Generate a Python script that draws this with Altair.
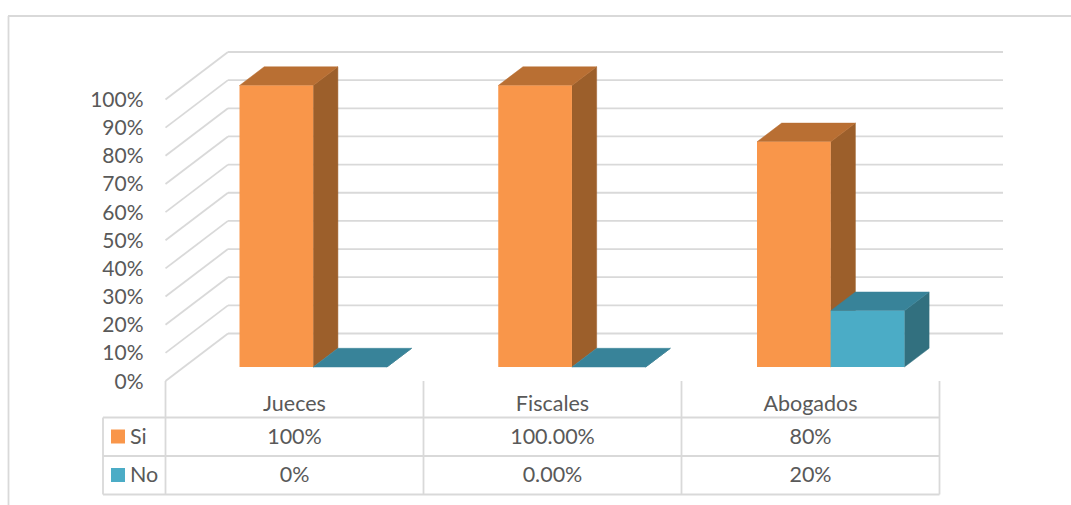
import altair as alt
import pandas as pd

# Chart values
categories = ["Jueces", "Fiscales", "Abogados"]
series_names = ["Si", "No"]
si_values = [100, 100, 80]
no_values = [0, 0, 20]
si_labels = ["100%", "100.00%", "80%"]
no_labels = ["0%", "0.00%", "20%"]
tick_values = [0, 10, 20, 30, 40, 50, 60, 70, 80, 90, 100]

# Colours
GRID = "#D9D9D9"
INK = "#595959"
FACES = {
    "Si": {"front": "#F9964A", "top": "#B96F33", "side": "#9C5F2B"},
    "No": {"front": "#4BACC6", "top": "#388399", "side": "#32707F"},
}

# Canvas and scale geometry (x in category widths, y in percent)
W, H = 1071, 505
CAT_PX = 258.0
ORIGIN_X = 165.5
PCT_PX = 2.815
BASE_Y = 367.0
BAR_START = (239.5 - ORIGIN_X) / CAT_PX
BAR_STEP = 258.75 / CAT_PX
BAR_W = 73.7 / CAT_PX
DEPTH_U = 24.7 / CAT_PX
DEPTH_P = 18.7 / PCT_PX
WALL_U = 62.5 / CAT_PX
WALL_BACK_P = (BASE_Y - 333.5) / PCT_PX
WALL_FRONT_P = (BASE_Y - 381.0) / PCT_PX
LINE_W = 1.8

x_scale = alt.Scale(domain=[-ORIGIN_X / CAT_PX, (W - ORIGIN_X) / CAT_PX], nice=False, zero=False)
y_scale = alt.Scale(domain=[(BASE_Y - H) / PCT_PX, BASE_Y / PCT_PX], nice=False, zero=False)


def X(field):
    return alt.X(field, type="quantitative", scale=x_scale, axis=None)


def Y(field):
    return alt.Y(field, type="quantitative", scale=y_scale, axis=None, stack=None)


# Bar faces, one record set per category and series
front_rows, side_rows, top_rows = [], [], []
for name, values in zip(series_names, [si_values, no_values]):
    shift = series_names.index(name) * BAR_W
    for i, (cat, v) in enumerate(zip(categories, values)):
        x0 = i * BAR_STEP + BAR_START + shift
        x1 = x0 + BAR_W
        front_rows.append({"series": name, "cat": cat, "x": x0, "x2": x1, "y": v, "y2": 0})
        side_rows += [
            {"series": name, "cat": cat, "x": x1, "y": v, "y2": 0},
            {"series": name, "cat": cat, "x": x1 + DEPTH_U, "y": v + DEPTH_P, "y2": DEPTH_P},
        ]
        top_rows += [
            {"series": name, "cat": cat, "x": x0, "x2": x1, "y": v},
            {"series": name, "cat": cat, "x": x0 + DEPTH_U, "x2": x1 + DEPTH_U, "y": v + DEPTH_P},
        ]
fronts = pd.DataFrame(front_rows)
sides = pd.DataFrame(side_rows)
tops = pd.DataFrame(top_rows)

# Gridlines on the back wall and the left wall
grid = pd.DataFrame({"tick": tick_values})
grid["label"] = [f"{t}%" for t in tick_values]
grid["back"] = grid["tick"] + WALL_BACK_P
grid["front"] = grid["tick"] + WALL_FRONT_P
grid["wx"] = 0.0
grid["wx2"] = WALL_U
grid["bx2"] = (1003 - ORIGIN_X) / CAT_PX

layers = []

# Outer frame
frame = pd.DataFrame({"k": [0]})
layers.append(alt.Chart(frame).mark_rule(color=GRID, strokeWidth=LINE_W).encode(
    x=alt.value(8), x2=alt.value(W), y=alt.value(16)))
layers.append(alt.Chart(frame).mark_rule(color=GRID, strokeWidth=LINE_W).encode(
    x=alt.value(8.5), y=alt.value(16), y2=alt.value(H)))

layers.append(alt.Chart(grid).mark_rule(color=GRID, strokeWidth=LINE_W).encode(
    x=X("wx2"), x2="bx2:Q", y=Y("back")))
layers.append(alt.Chart(grid).mark_rule(color=GRID, strokeWidth=LINE_W).encode(
    x=X("wx"), x2="wx2:Q", y=Y("front"), y2="back:Q"))

# Value axis labels
layers.append(alt.Chart(grid).mark_text(
    align="right", baseline="middle", font="Lato", fontSize=21, dy=1.5, color=INK
).encode(x=alt.value(143.5), y=Y("front"), text="label:N"))

# Bars, back faces first so each front face sits on top
for name in series_names:
    c = FACES[name]
    layers.append(alt.Chart(sides[sides.series == name]).mark_area(
        color=c["side"], stroke=c["side"], strokeWidth=0.5
    ).encode(x=X("x"), y=Y("y"), y2="y2:Q", detail="cat:N"))
    layers.append(alt.Chart(tops[tops.series == name]).mark_area(
        orient="horizontal", color=c["top"], stroke=c["top"], strokeWidth=0.5
    ).encode(y=Y("y"), x=X("x"), x2="x2:Q", detail="cat:N"))
    layers.append(alt.Chart(fronts[fronts.series == name]).mark_rect(color=c["front"]).encode(
        x=X("x"), x2="x2:Q", y=Y("y"), y2="y2:Q"))

# Data table below the plot
ROW_Y = [417.5, 456.0, 494.5]
edges = pd.DataFrame({"u": [float(i) for i in range(len(categories) + 1)]})
layers.append(alt.Chart(edges).mark_rule(color=GRID, strokeWidth=LINE_W).encode(
    x=X("u"), y=alt.value(381), y2=alt.value(ROW_Y[-1])))
layers.append(alt.Chart(frame).mark_rule(color=GRID, strokeWidth=LINE_W).encode(
    x=alt.value(103), y=alt.value(ROW_Y[0]), y2=alt.value(ROW_Y[-1])))
for ry in ROW_Y:
    layers.append(alt.Chart(frame).mark_rule(color=GRID, strokeWidth=LINE_W).encode(
        x=alt.value(103), x2=alt.value(ORIGIN_X + CAT_PX * len(categories)), y=alt.value(ry)))

centers = [i + 0.5 for i in range(len(categories))]
for labels, ty in [(categories, 404.5), (si_labels, 437.5), (no_labels, 476)]:
    layers.append(alt.Chart(pd.DataFrame({"u": centers, "t": labels})).mark_text(
        align="center", baseline="middle", font="Lato", fontSize=21.5, color=INK
    ).encode(x=X("u"), y=alt.value(ty), text="t:N"))

# Legend keys in the table's first column
for name, ty in zip(series_names, [436.5, 475]):
    row = pd.DataFrame({"t": [name]})
    layers.append(alt.Chart(row).mark_rect(color=FACES[name]["front"]).encode(
        x=alt.value(111), x2=alt.value(125), y=alt.value(ty - 7), y2=alt.value(ty + 7)))
    layers.append(alt.Chart(row).mark_text(
        align="left", baseline="middle", font="Lato", fontSize=21.5, color=INK
    ).encode(x=alt.value(130), y=alt.value(ty + 1), text="t:N"))

chart = alt.layer(*layers).properties(
    width=W, height=H, padding=0, autosize="none", background="white"
).configure_view(stroke=None)

chart.save("out.html", embed_options={"renderer": "svg", "actions": False})
